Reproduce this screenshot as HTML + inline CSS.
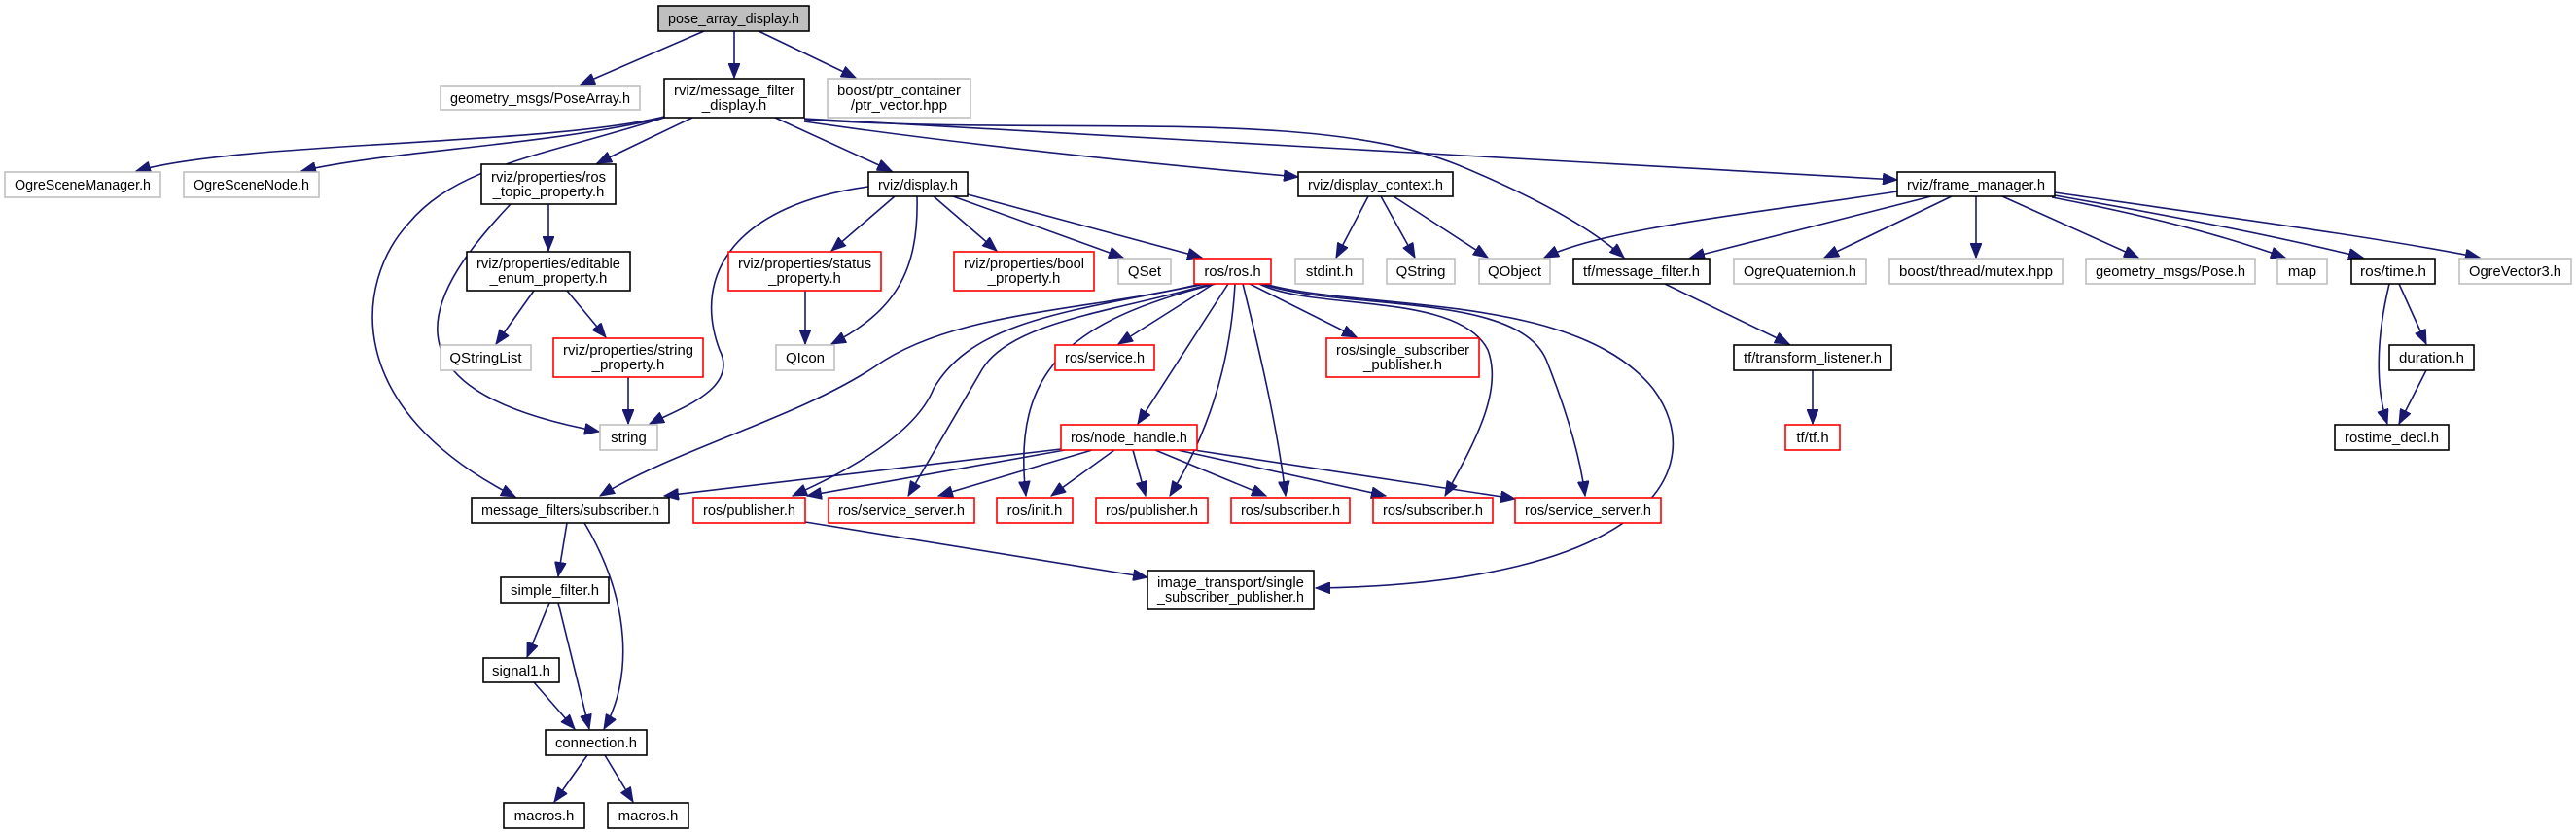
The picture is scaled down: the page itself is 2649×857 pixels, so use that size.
<!DOCTYPE html>
<html><head><meta charset="utf-8"><style>
html,body{margin:0;padding:0;background:#fff;}
svg{display:block;}
text{font-family:"Liberation Sans",sans-serif;font-size:15px;fill:#000;text-anchor:middle;}
.e{fill:none;stroke:#191970;stroke-width:1.6;marker-end:url(#a);}
.b{fill:#fff;stroke:#000;stroke-width:1.6;}
.g{fill:#fff;stroke:#bfbfbf;stroke-width:1.6;}
.r{fill:#fff;stroke:#ff0000;stroke-width:1.6;}
</style></head><body>
<svg width="2649" height="857" viewBox="0 0 2649 857" xmlns="http://www.w3.org/2000/svg">
<defs><marker id="a" markerUnits="userSpaceOnUse" markerWidth="16" markerHeight="12" refX="15" refY="6" orient="auto"><path d="M0,0 L15,6 L0,12 z" fill="#191970" stroke="#191970"/></marker></defs>
<g>
<path class="e" d="M724,32 L597,87"/>
<path class="e" d="M755,32 L755,80"/>
<path class="e" d="M780,32 L880,80"/>
<path class="e" d="M683,120 C560,150 250,145 140,176"/>
<path class="e" d="M683,121 C560,150 400,155 310,176"/>
<path class="e" d="M683,121 C560,160 470,170 420,230 C365,290 350,420 530,511"/>
<path class="e" d="M712,121 L614,168"/>
<path class="e" d="M797,121 L917,176"/>
<path class="e" d="M827,125 C1000,150 1200,170 1335,182"/>
<path class="e" d="M827,122 C1300,150 1700,170 1951,185"/>
<path class="e" d="M827,123 C1100,140 1350,110 1500,170 Q1620,220 1670,265"/>
<path class="e" d="M564,210 L564,258"/>
<path class="e" d="M525,210 C440,300 380,400 616,444"/>
<path class="e" d="M549,299 L510,354"/>
<path class="e" d="M583,299 L623,347"/>
<path class="e" d="M646,388 L646,436"/>
<path class="e" d="M920,202 L855,258"/>
<path class="e" d="M943,202 C945,280 920,320 855,354"/>
<path class="e" d="M828,299 L828,354"/>
<path class="e" d="M893,192 C760,210 710,280 740,360 C760,400 700,420 668,436"/>
<path class="e" d="M960,202 L1025,258"/>
<path class="e" d="M980,202 L1155,265"/>
<path class="e" d="M995,200 L1236,265"/>
<path class="e" d="M1407,202 L1374,265"/>
<path class="e" d="M1420,202 L1455,265"/>
<path class="e" d="M1433,202 L1530,265"/>
<path class="e" d="M1951,197 C1800,220 1650,235 1588,265"/>
<path class="e" d="M1986,202 L1738,265"/>
<path class="e" d="M2007,202 L1876,265"/>
<path class="e" d="M2032,202 L2032,265"/>
<path class="e" d="M2059,202 L2199,265"/>
<path class="e" d="M2110,203 C2200,220 2280,240 2350,265"/>
<path class="e" d="M2113,201 C2250,225 2350,245 2430,265"/>
<path class="e" d="M2113,198 C2300,225 2450,245 2550,265"/>
<path class="e" d="M1712,292 L1840,354"/>
<path class="e" d="M1864,381 L1864,436"/>
<path class="e" d="M2467,292 L2495,354"/>
<path class="e" d="M2457,292 C2443,350 2443,400 2455,436"/>
<path class="e" d="M2495,381 L2467,436"/>
<path class="e" d="M1248,292 L1150,354"/>
<path class="e" d="M1285,292 L1395,347"/>
<path class="e" d="M1263,292 L1170,436"/>
<path class="e" d="M1235,292 C1120,320 980,320 900,377 C820,430 700,460 617,510"/>
<path class="e" d="M1240,292 C1100,320 1000,330 960,400 C940,450 860,490 815,510"/>
<path class="e" d="M1245,292 C1150,320 1040,330 1010,380 L934,510"/>
<path class="e" d="M1250,292 C1100,330 1040,380 1055,510"/>
<path class="e" d="M1270,292 C1265,380 1240,450 1203,510"/>
<path class="e" d="M1278,292 C1300,380 1315,450 1322,510"/>
<path class="e" d="M1295,292 C1350,320 1500,300 1530,360 C1545,400 1520,450 1486,510"/>
<path class="e" d="M1297,292 C1380,320 1560,300 1590,370 C1610,420 1625,470 1630,510"/>
<path class="e" d="M1300,292 C1400,320 1620,300 1700,400 C1760,480 1700,600 1353,605"/>
<path class="e" d="M1091,462 L683,510"/>
<path class="e" d="M1095,463 L830,510"/>
<path class="e" d="M1123,463 L965,510"/>
<path class="e" d="M1146,463 L1081,510"/>
<path class="e" d="M1165,463 L1178,510"/>
<path class="e" d="M1188,463 L1302,510"/>
<path class="e" d="M1211,463 L1425,510"/>
<path class="e" d="M1228,463 L1558,513"/>
<path class="e" d="M828,537 L1180,594"/>
<path class="e" d="M583,538 L574,593"/>
<path class="e" d="M601,538 C650,620 650,700 621,750"/>
<path class="e" d="M565,620 L542,676"/>
<path class="e" d="M574,620 L606,750"/>
<path class="e" d="M549,702 L591,750"/>
<path class="e" d="M604,777 L570,825"/>
<path class="e" d="M622,777 L651,825"/>
</g>
<g>
<rect x="677" y="6" width="155" height="26" style="fill:#bfbfbf;stroke:#000;stroke-width:1.6"/><text x="754.5" y="24" textLength="135" lengthAdjust="spacingAndGlyphs">pose_array_display.h</text>
<rect class="g" x="453" y="88" width="205" height="25"/><text x="555.5" y="106" textLength="185" lengthAdjust="spacingAndGlyphs">geometry_msgs/PoseArray.h</text>
<rect class="b" x="683" y="81" width="144" height="40"/><text x="755" y="98" textLength="124" lengthAdjust="spacingAndGlyphs">rviz/message_filter</text><text x="755" y="113">_display.h</text>
<rect class="g" x="851" y="81" width="147" height="40"/><text x="924.5" y="98" textLength="127" lengthAdjust="spacingAndGlyphs">boost/ptr_container</text><text x="924.5" y="113">/ptr_vector.hpp</text>
<rect class="g" x="5" y="177" width="160" height="26"/><text x="85" y="195" textLength="140" lengthAdjust="spacingAndGlyphs">OgreSceneManager.h</text>
<rect class="g" x="189" y="177" width="139" height="26"/><text x="258.5" y="195" textLength="119" lengthAdjust="spacingAndGlyphs">OgreSceneNode.h</text>
<rect class="b" x="495" y="169" width="138" height="41"/><text x="564" y="187" textLength="118" lengthAdjust="spacingAndGlyphs">rviz/properties/ros</text><text x="564" y="202">_topic_property.h</text>
<rect class="b" x="480" y="259" width="168" height="40"/><text x="564" y="276" textLength="148" lengthAdjust="spacingAndGlyphs">rviz/properties/editable</text><text x="564" y="291">_enum_property.h</text>
<rect class="g" x="453" y="355" width="93" height="26"/><text x="499.5" y="373">QStringList</text>
<rect class="r" x="569" y="348" width="154" height="40"/><text x="646" y="365" textLength="134" lengthAdjust="spacingAndGlyphs">rviz/properties/string</text><text x="646" y="380">_property.h</text>
<rect class="r" x="749" y="259" width="157" height="40"/><text x="827.5" y="276" textLength="137" lengthAdjust="spacingAndGlyphs">rviz/properties/status</text><text x="827.5" y="291">_property.h</text>
<rect class="g" x="798" y="355" width="60" height="26"/><text x="828" y="373">QIcon</text>
<rect class="g" x="617" y="437" width="59" height="26"/><text x="646.5" y="455">string</text>
<rect class="b" x="893" y="177" width="102" height="25"/><text x="944" y="195" textLength="82" lengthAdjust="spacingAndGlyphs">rviz/display.h</text>
<rect class="r" x="981" y="259" width="144" height="40"/><text x="1053" y="276" textLength="124" lengthAdjust="spacingAndGlyphs">rviz/properties/bool</text><text x="1053" y="291">_property.h</text>
<rect class="g" x="1150" y="266" width="54" height="26"/><text x="1177" y="284">QSet</text>
<rect class="r" x="1228" y="266" width="79" height="26"/><text x="1267.5" y="284">ros/ros.h</text>
<rect class="g" x="1332" y="266" width="70" height="26"/><text x="1367" y="284">stdint.h</text>
<rect class="g" x="1426" y="266" width="70" height="26"/><text x="1461" y="284">QString</text>
<rect class="g" x="1521" y="266" width="73" height="26"/><text x="1557.5" y="284">QObject</text>
<rect class="b" x="1618" y="266" width="140" height="26"/><text x="1688" y="284" textLength="120" lengthAdjust="spacingAndGlyphs">tf/message_filter.h</text>
<rect class="b" x="1335" y="177" width="159" height="25"/><text x="1414.5" y="195" textLength="139" lengthAdjust="spacingAndGlyphs">rviz/display_context.h</text>
<rect class="r" x="1085" y="355" width="102" height="26"/><text x="1136" y="373" textLength="82" lengthAdjust="spacingAndGlyphs">ros/service.h</text>
<rect class="r" x="1364" y="348" width="157" height="40"/><text x="1442.5" y="365" textLength="137" lengthAdjust="spacingAndGlyphs">ros/single_subscriber</text><text x="1442.5" y="380">_publisher.h</text>
<rect class="b" x="1783" y="355" width="162" height="26"/><text x="1864" y="373" textLength="142" lengthAdjust="spacingAndGlyphs">tf/transform_listener.h</text>
<rect class="b" x="1951" y="177" width="162" height="25"/><text x="2032" y="195" textLength="142" lengthAdjust="spacingAndGlyphs">rviz/frame_manager.h</text>
<rect class="g" x="1783" y="266" width="136" height="26"/><text x="1851" y="284" textLength="116" lengthAdjust="spacingAndGlyphs">OgreQuaternion.h</text>
<rect class="g" x="1943" y="266" width="178" height="26"/><text x="2032" y="284" textLength="158" lengthAdjust="spacingAndGlyphs">boost/thread/mutex.hpp</text>
<rect class="g" x="2145" y="266" width="174" height="26"/><text x="2232" y="284" textLength="154" lengthAdjust="spacingAndGlyphs">geometry_msgs/Pose.h</text>
<rect class="g" x="2342" y="266" width="51" height="26"/><text x="2367.5" y="284">map</text>
<rect class="b" x="2418" y="266" width="86" height="26"/><text x="2461" y="284" textLength="68" lengthAdjust="spacingAndGlyphs">ros/time.h</text>
<rect class="g" x="2529" y="266" width="115" height="26"/><text x="2586.5" y="284" textLength="95" lengthAdjust="spacingAndGlyphs">OgreVector3.h</text>
<rect class="b" x="2457" y="355" width="87" height="26"/><text x="2500.5" y="373" textLength="67" lengthAdjust="spacingAndGlyphs">duration.h</text>
<rect class="b" x="2401" y="437" width="117" height="26"/><text x="2459.5" y="455" textLength="97" lengthAdjust="spacingAndGlyphs">rostime_decl.h</text>
<rect class="r" x="1836" y="437" width="56" height="26"/><text x="1864" y="455">tf/tf.h</text>
<rect class="b" x="485" y="512" width="203" height="26"/><text x="586.5" y="530" textLength="183" lengthAdjust="spacingAndGlyphs">message_filters/subscriber.h</text>
<rect class="r" x="713" y="512" width="115" height="26"/><text x="770.5" y="530" textLength="95" lengthAdjust="spacingAndGlyphs">ros/publisher.h</text>
<rect class="r" x="852" y="512" width="150" height="26"/><text x="927" y="530" textLength="130" lengthAdjust="spacingAndGlyphs">ros/service_server.h</text>
<rect class="b" x="515" y="594" width="111" height="26"/><text x="570.5" y="612" textLength="91" lengthAdjust="spacingAndGlyphs">simple_filter.h</text>
<rect class="b" x="497" y="677" width="78" height="25"/><text x="536" y="695">signal1.h</text>
<rect class="b" x="561" y="751" width="104" height="26"/><text x="613" y="769" textLength="84" lengthAdjust="spacingAndGlyphs">connection.h</text>
<rect class="b" x="518" y="826" width="83" height="26"/><text x="559.5" y="844">macros.h</text>
<rect class="b" x="625" y="826" width="83" height="26"/><text x="666.5" y="844">macros.h</text>
<rect class="r" x="1091" y="437" width="140" height="26"/><text x="1161" y="455" textLength="120" lengthAdjust="spacingAndGlyphs">ros/node_handle.h</text>
<rect class="r" x="1025" y="512" width="78" height="26"/><text x="1064" y="530">ros/init.h</text>
<rect class="r" x="1127" y="512" width="115" height="26"/><text x="1184.5" y="530" textLength="95" lengthAdjust="spacingAndGlyphs">ros/publisher.h</text>
<rect class="r" x="1266" y="512" width="122" height="26"/><text x="1327" y="530" textLength="102" lengthAdjust="spacingAndGlyphs">ros/subscriber.h</text>
<rect class="r" x="1412" y="512" width="123" height="26"/><text x="1473.5" y="530" textLength="103" lengthAdjust="spacingAndGlyphs">ros/subscriber.h</text>
<rect class="r" x="1558" y="512" width="150" height="26"/><text x="1633" y="530" textLength="130" lengthAdjust="spacingAndGlyphs">ros/service_server.h</text>
<rect class="b" x="1180" y="587" width="171" height="40"/><text x="1265.5" y="604" textLength="151" lengthAdjust="spacingAndGlyphs">image_transport/single</text><text x="1265.5" y="619" textLength="151" lengthAdjust="spacingAndGlyphs">_subscriber_publisher.h</text>
</g>
</svg>
</body></html>
